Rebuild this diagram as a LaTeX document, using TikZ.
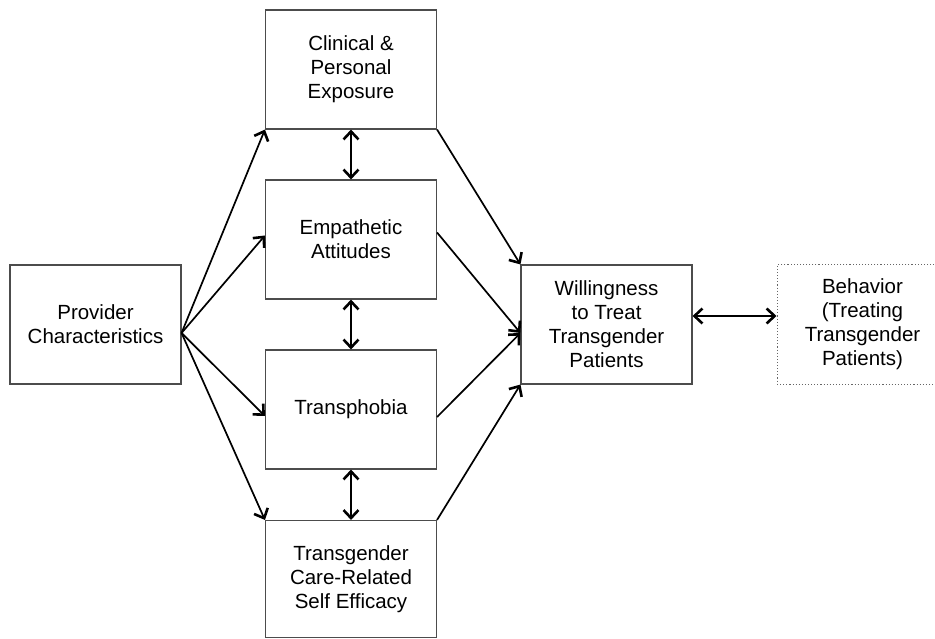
\documentclass[tikz,border=0pt]{standalone}
\usepackage{fontspec}
\setmainfont{Liberation Sans}
\usetikzlibrary{arrows.meta}
\begin{document}
\begin{tikzpicture}[x=1pt,y=-1pt,
  box/.style={draw=black!70,line width=1.1pt,rectangle,minimum width=171pt,minimum height=119pt,
    align=center,inner sep=0pt,font=\fontsize{20.5}{24}\selectfont},
  dotbox/.style={box,draw=black!60,dotted,line width=1pt},
  tip/.style={Straight Barb[length=8pt,width=15pt,line width=2.6pt]},
  conn/.style={line width=1.7pt,-{Straight Barb[length=8pt,width=15pt,line width=2.6pt]}},
  dconn/.style={line width=1.7pt,{Straight Barb[length=8pt,width=15pt,line width=2.6pt]}-{Straight Barb[length=8pt,width=15pt,line width=2.6pt]}}]
\clip (0,0) rectangle (935,639);
\node[box] (prov) at (95.5,324.5) {Provider\\Characteristics};
\node[box] (clin) at (351,69.5) {Clinical \&\\Personal\\Exposure};
\node[box] (emp) at (351,239.5) {Empathetic\\Attitudes};
\node[box] (trans) at (351,409.5) {Transphobia};
\node[box,minimum height=117pt] (self) at (351,579) {Transgender\\Care-Related\\Self Efficacy};
\node[box] (will) at (606.5,324.5) {Willingness\\to Treat\\Transgender\\Patients};
\node[dotbox] (beh) at (862.5,324.5) {Behavior\\(Treating\\Transgender\\Patients)};
\draw[conn] ([yshift=-8.5pt]prov.east) -- (clin.south west);
\draw[conn] ([yshift=-8.5pt]prov.east) -- ([yshift=4pt]emp.west);
\draw[conn] ([yshift=-8.5pt]prov.east) -- ([yshift=-6.5pt]trans.west);
\draw[conn] ([yshift=-8.5pt]prov.east) -- (self.north west);
\draw[conn] (clin.south east) -- (will.north west);
\draw[conn] ([yshift=7pt]emp.east) -- ([yshift=-8.5pt]will.west);
\draw[conn] ([yshift=-7.5pt]trans.east) -- ([yshift=-8.5pt]will.west);
\draw[conn] (self.north east) -- (will.south west);
\draw[dconn] (clin.south) -- (emp.north);
\draw[dconn] (emp.south) -- (trans.north);
\draw[dconn] (trans.south) -- (self.north);
\draw[dconn] ([yshift=8.5pt]will.east) -- ([yshift=8.5pt]beh.west);
\end{tikzpicture}
\end{document}
